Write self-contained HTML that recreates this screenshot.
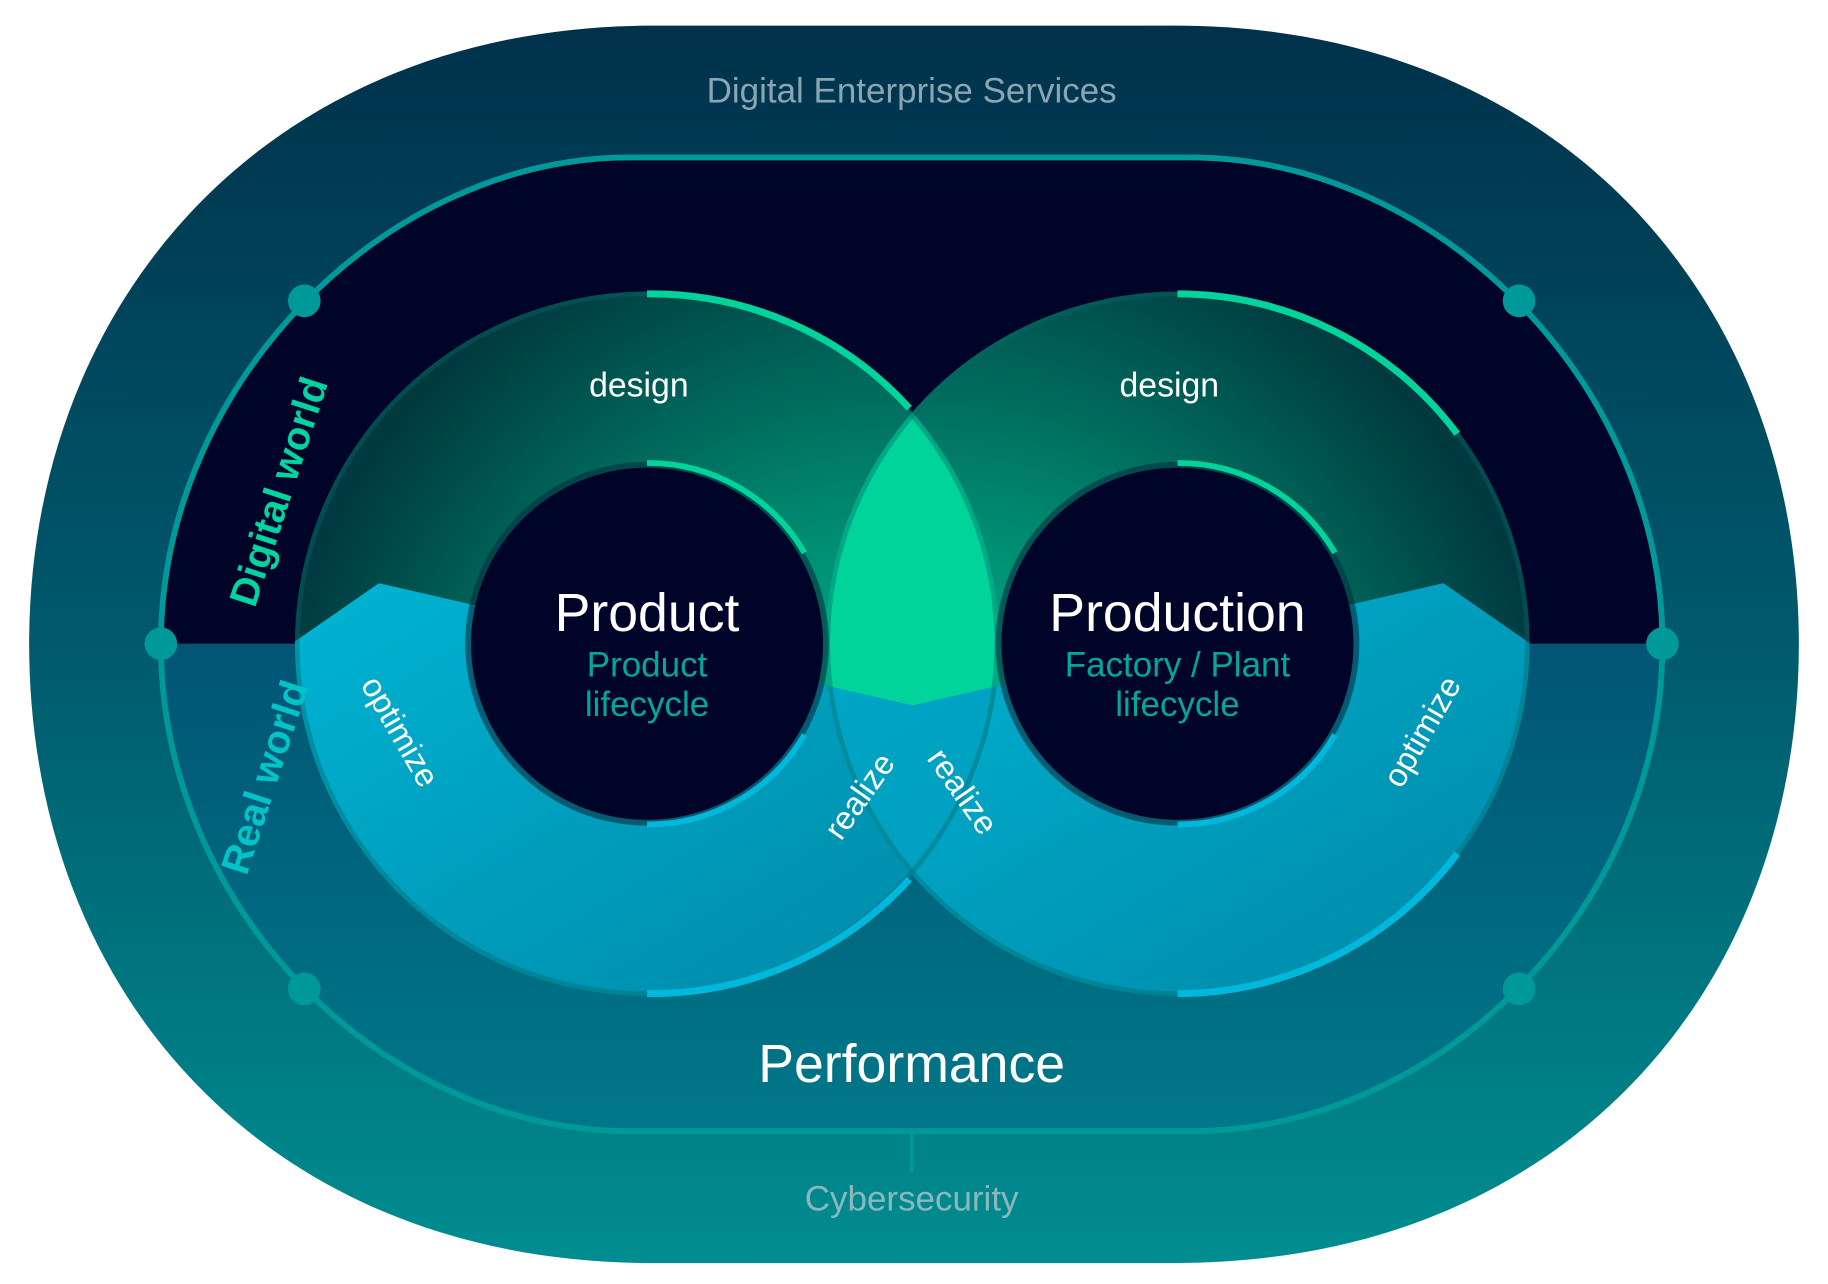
<!DOCTYPE html>
<html><head><meta charset="utf-8"><style>
html,body{margin:0;padding:0;background:#fff;}
svg{display:block;}
text{font-family:"Liberation Sans",sans-serif;}
</style></head><body>
<svg width="1828" height="1284" viewBox="0 0 1568 1101" preserveAspectRatio="none" xmlns="http://www.w3.org/2000/svg">
<defs>
<linearGradient id="outer" x1="0" y1="0" x2="0" y2="1">
<stop offset="0" stop-color="#00314b"/><stop offset="0.5" stop-color="#005a6c"/><stop offset="1" stop-color="#008d90"/>
</linearGradient>
<linearGradient id="lower" x1="0" y1="0" x2="0" y2="1">
<stop offset="0" stop-color="#005574"/><stop offset="1" stop-color="#008390"/>
</linearGradient>
<radialGradient id="gL" cx="0.85" cy="0.75" r="0.9">
<stop offset="0" stop-color="#00c896"/><stop offset="0.5" stop-color="#00876e"/><stop offset="1" stop-color="#003a40"/>
</radialGradient>
<radialGradient id="gR" cx="0.15" cy="0.75" r="0.9">
<stop offset="0" stop-color="#00c896"/><stop offset="0.5" stop-color="#00876e"/><stop offset="1" stop-color="#003a40"/>
</radialGradient>
<linearGradient id="cy" x1="0" y1="0" x2="0.6" y2="1">
<stop offset="0" stop-color="#00c4e2"/><stop offset="1" stop-color="#0090b0"/>
</linearGradient>
<clipPath id="topc"><polygon points="0,0 1568,0 1568,552 1313,552 1238,500 783,605 325,500 250,552 0,552"/></clipPath>
<clipPath id="botc"><polygon points="0,1101 1568,1101 1568,552 1313,552 1238,500 783,605 325,500 250,552 0,552"/></clipPath>
<clipPath id="track"><path d="M540,135 H1020 C1234,135 1426,330 1426,552 C1426,780 1234,970 1020,970 H540 C330,970 138,780 138,552 C138,330 330,135 540,135 Z"/></clipPath>
<clipPath id="lc"><circle cx="555" cy="552" r="302"/></clipPath>
</defs>
<path d="M560,22 H1008 C1340,22 1543,260 1543,552 C1543,850 1340,1083 1008,1083 H560 C228,1083 25,850 25,552 C25,260 228,22 560,22 Z" fill="url(#outer)"/>
<g clip-path="url(#track)">
<rect x="0" y="0" width="1568" height="552" fill="#000428"/>
<rect x="0" y="552" width="1568" height="549" fill="url(#lower)"/>
</g>
<path d="M540,135 H1020 C1234,135 1426,330 1426,552 C1426,780 1234,970 1020,970 H540 C330,970 138,780 138,552 C138,330 330,135 540,135 Z" fill="none" stroke="#00999a" stroke-width="5"/>
<line x1="782" y1="970" x2="782" y2="1005" stroke="#00999a" stroke-width="3"/>
<g fill="#00999a">
<circle cx="261" cy="258" r="14"/><circle cx="1303" cy="258" r="14"/>
<circle cx="138" cy="552" r="14"/><circle cx="1426" cy="552" r="14"/>
<circle cx="261" cy="848" r="14"/><circle cx="1303" cy="848" r="14"/>
</g>
<g clip-path="url(#topc)">
<circle cx="555" cy="552" r="302" fill="url(#gL)"/>
<circle cx="1010" cy="552" r="302" fill="url(#gR)"/>
<circle cx="1010" cy="552" r="302" fill="#00d49a" clip-path="url(#lc)"/>
</g>
<g clip-path="url(#botc)">
<circle cx="555" cy="552" r="302" fill="url(#cy)"/>
<circle cx="1010" cy="552" r="302" fill="url(#cy)"/>
<circle cx="1010" cy="552" r="302" fill="#00a0c0" opacity="0.7" clip-path="url(#lc)"/>
</g>
<circle cx="555" cy="552" r="300" fill="none" stroke="#006a6a" stroke-width="4" opacity="0.4"/>
<circle cx="1010" cy="552" r="300" fill="none" stroke="#006a6a" stroke-width="4" opacity="0.4"/>
<path d="M555,252 A300,300 0 0 1 780,350" fill="none" stroke="#00d49a" stroke-width="6"/>
<path d="M1010,252 A300,300 0 0 1 1250,372" fill="none" stroke="#00d49a" stroke-width="6"/>
<path d="M555,852 A300,300 0 0 0 780,754" fill="none" stroke="#00b8dc" stroke-width="6"/>
<path d="M1010,852 A300,300 0 0 0 1250,732" fill="none" stroke="#00b8dc" stroke-width="6"/>
<circle cx="555" cy="552" r="156" fill="#00303f" opacity="0.6"/>
<circle cx="1010" cy="552" r="156" fill="#00303f" opacity="0.6"/>
<path d="M555,397 A155,155 0 0 1 690,474" fill="none" stroke="#00d49a" stroke-width="5"/>
<path d="M1010,397 A155,155 0 0 1 1145,474" fill="none" stroke="#00d49a" stroke-width="5"/>
<path d="M555,707 A155,155 0 0 0 690,630" fill="none" stroke="#00b8dc" stroke-width="5"/>
<path d="M1010,707 A155,155 0 0 0 1145,630" fill="none" stroke="#00b8dc" stroke-width="5"/>
<circle cx="555" cy="552" r="151" fill="#000428"/>
<circle cx="1010" cy="552" r="151" fill="#000428"/>
<g text-anchor="middle">
<text x="782" y="88" font-size="30" fill="#8aa6b3">Digital Enterprise Services</text>
<text x="782" y="1038" font-size="30" fill="#8ab8bd">Cybersecurity</text>
<text x="782" y="928" font-size="46" fill="#fff">Performance</text>
<text x="555" y="541" font-size="46" fill="#fff">Product</text>
<text x="555" y="580" font-size="30" fill="#00a898">Product</text>
<text x="555" y="614" font-size="30" fill="#00a898">lifecycle</text>
<text x="1010" y="541" font-size="46" fill="#fff">Production</text>
<text x="1010" y="580" font-size="30" fill="#00a898">Factory / Plant</text>
<text x="1010" y="614" font-size="30" fill="#00a898">lifecycle</text>
<text x="548" y="340" font-size="29" fill="#fff">design</text>
<text x="1003" y="340" font-size="29" fill="#fff">design</text>
<text transform="translate(250,425) rotate(-72)" font-size="34" font-weight="bold" fill="#00d4a0">Digital world</text>
<text transform="translate(238,670) rotate(-72)" font-size="34" font-weight="bold" fill="#00c4c8">Real world</text>
<text transform="translate(335,632) rotate(60)" font-size="28" fill="#fff">optimize</text>
<text transform="translate(1228,632) rotate(-60)" font-size="28" fill="#fff">optimize</text>
<text transform="translate(745,688) rotate(-55)" font-size="28" fill="#fff">realize</text>
<text transform="translate(818,684) rotate(55)" font-size="28" fill="#fff">realize</text>
</g>
</svg>
</body></html>
